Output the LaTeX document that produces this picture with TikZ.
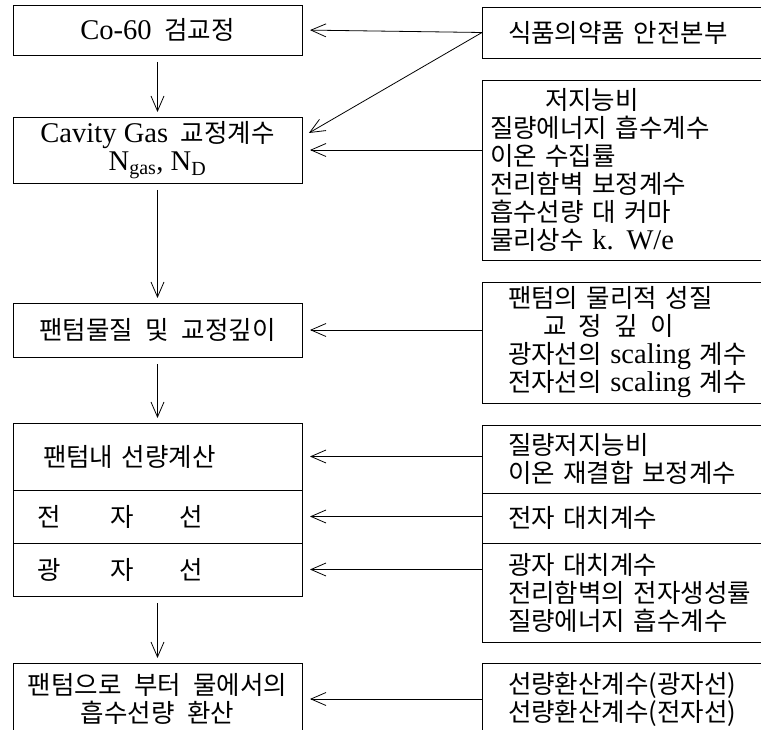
\documentclass[tikz,border=0pt]{standalone}
\usepackage{fontspec}
\setmainfont[WordSpace=2.2]{Noto Sans CJK KR}
\newfontfamily\lat[Scale=1.12]{Liberation Serif}
\usetikzlibrary{arrows.meta}
\usetikzlibrary{positioning}

\begin{document}
\begin{tikzpicture}
      [x=1pt, y=-1pt,
        font=\fontsize{25.5}{28}\selectfont,
        every node/.style={draw, line width=0.8pt, inner ysep=2pt, outer sep=0pt},
        lbox/.style={minimum width=289pt, align=center},
        lrow/.style={text width=241pt, inner xsep=24pt, align=left},
        rbox/.style={anchor=west, text width=300pt, inner xsep=26pt, align=left},
        flow/.style={-{Straight Barb[length=15pt,width=13pt]}, line width=0.8pt,
          shorten <=7pt, shorten >=5pt},
        feed/.style={-{Straight Barb[length=15pt,width=13pt]}, line width=0.8pt,
          shorten >=8pt}]
  \clip (0,0) rectangle (761,730);
  % left column
  \node[lbox, minimum height=50pt] (b1) at (157.5,30) {{\lat Co-60} 검교정};
  \node[lbox, minimum height=66pt] (b2) at (157.5,150)
    {{\lat Cavity Gas} 교정계수\\{\lat N\textsubscript{gas}, N\textsubscript{D}}};
  \node[lbox, minimum height=54pt] (b3) at (157.5,330) {팬텀물질 및 교정깊이};
  \node[lrow, minimum height=67pt] (b4) at (157.5,456.5) {\hspace*{6pt}팬텀내 선량계산};
  \node[lrow, minimum height=53pt, below=0pt of b4] (b5)
    {전\hspace{50pt}자\hspace{46pt}선};
  \node[lrow, minimum height=53pt, below=0pt of b5] (b6)
    {광\hspace{50pt}자\hspace{46pt}선};
  \node[lbox, minimum height=72pt] (b7) at (157.5,699)
    {팬텀으로 부터 물에서의\\흡수선량 환산};
  % right column
  \node[rbox, minimum height=51pt] (r1) at (482,32.5) {식품의약품 안전본부};
  \node[rbox, minimum height=180pt, inner xsep=8pt] (r2) at (482,170)
    {\hspace*{55pt}저지능비\\질량에너지 흡수계수\\이온 수집률\\전리함벽 보정계수\\
     흡수선량 대 커마\\물리상수 {\lat k. W/e}};
  \node[rbox, minimum height=121pt] (r3) at (482,342.5)
    {팬텀의 물리적 성질\\
     \hspace*{35pt}교\hspace{12.5pt}정\hspace{12.5pt}깊\hspace{12.5pt}이\\
     광자선의 {\lat scaling} 계수\\전자선의 {\lat scaling} 계수};
  \node[rbox, minimum height=68pt] (r4) at (482,459)
    {질량저지능비\\이온 재결합 보정계수};
  \node[rbox, minimum height=50pt, below=0pt of r4] (r5) {전자 대치계수};
  \node[rbox, minimum height=99pt, below=0pt of r5] (r6)
    {광자 대치계수\\전리함벽의 전자생성률\\질량에너지 흡수계수};
  \node[rbox, minimum height=72pt] (r7) at (482,699)
    {선량환산계수(광자선)\\선량환산계수(전자선)};
  % flow down
  \draw[flow] (b1.south) -- (b2.north);
  \draw[flow] (b2.south) -- (b3.north);
  \draw[flow] (b3.south) -- (b4.north);
  \draw[flow] (b6.south) -- (b7.north);
  % inputs
  \draw[feed] (r1.west) -- (b1.east);
  \draw[feed] (r1.west) -- ([yshift=13pt]b2.east);
  \draw[feed] (r2.west |- b2.east) -- (b2.east);
  \draw[feed] (r3.west |- b3.east) -- (b3.east);
  \draw[feed] (r4.west |- b4.east) -- (b4.east);
  \draw[feed] (r5.west |- b5.east) -- (b5.east);
  \draw[feed] (r6.west |- b6.east) -- (b6.east);
  \draw[feed] (r7.west |- b7.east) -- (b7.east);
\end{tikzpicture}
\end{document}
